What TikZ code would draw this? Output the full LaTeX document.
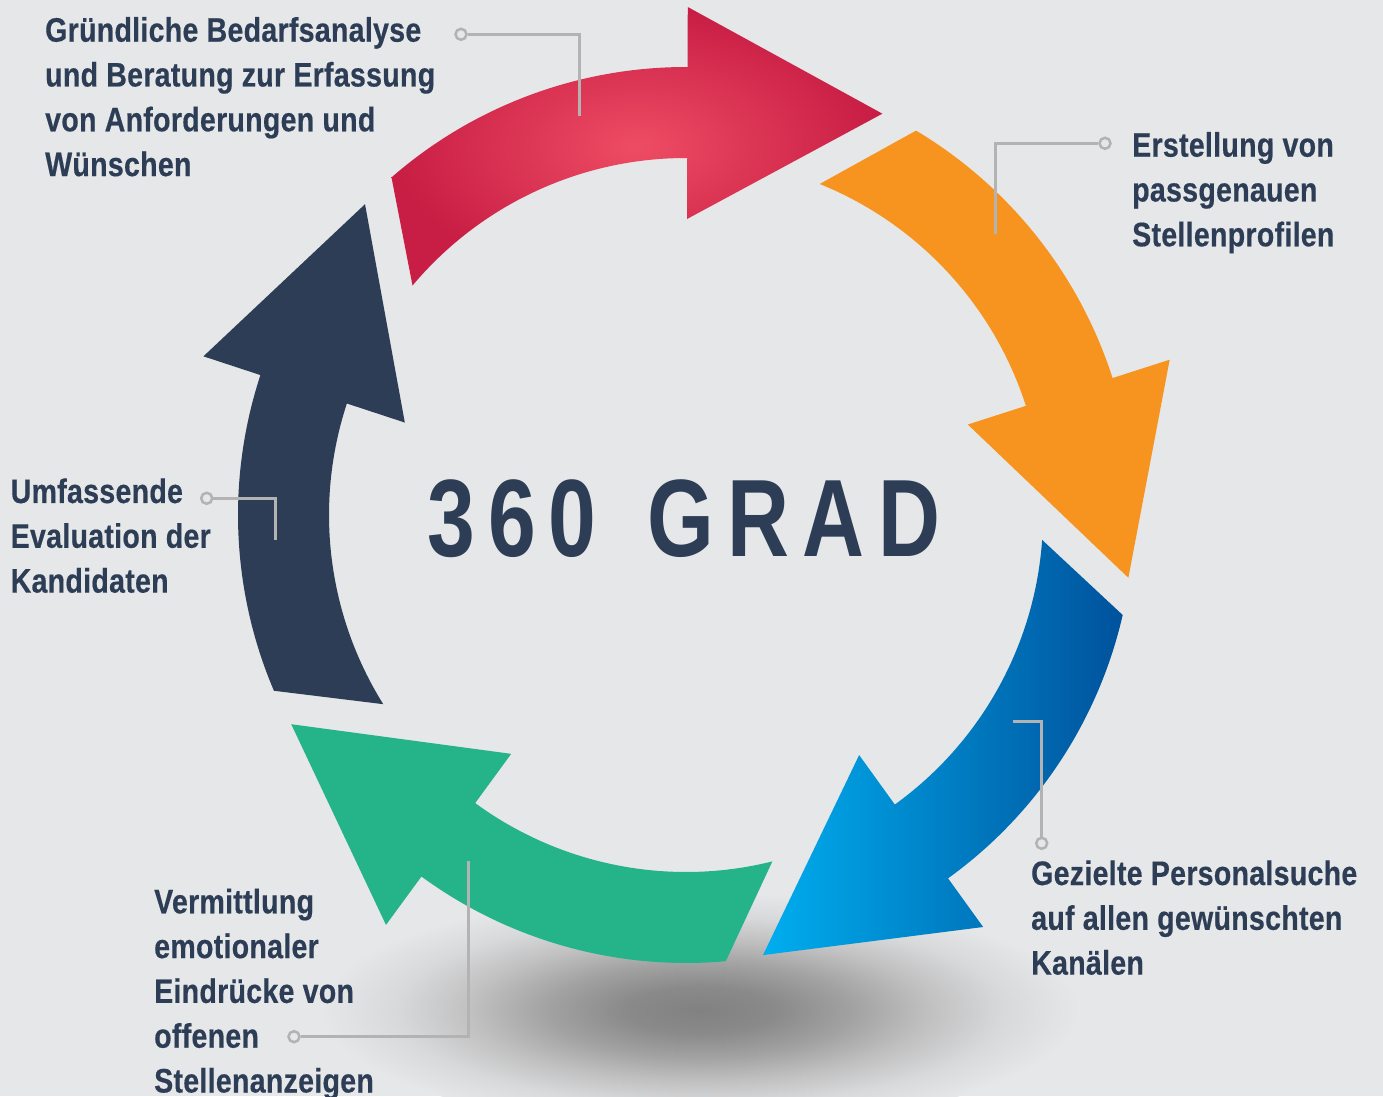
\documentclass[tikz,border=0pt]{standalone}
\usepackage{fontspec}
\setmainfont{Liberation Sans}
\newfontfamily\labfont{Liberation Sans}[FakeStretch=0.84,LetterSpace=0.8,FakeBold=0.4]
\newfontfamily\bigfont{Liberation Sans}[FakeStretch=0.78,LetterSpace=12]
\usetikzlibrary{calc}
\definecolor{bgc}{HTML}{E6E7E8}
\definecolor{navyc}{HTML}{2C3D55}
\definecolor{redlight}{HTML}{EE4C64}
\definecolor{reddark}{HTML}{C81D44}
\definecolor{orangec}{HTML}{F6941F}
\definecolor{bluelight}{HTML}{00AEEF}
\definecolor{bluedark}{HTML}{00529C}
\definecolor{greenc}{HTML}{25B389}
\definecolor{leadc}{HTML}{B3B3B3}
\definecolor{shd0}{HTML}{818181}
\definecolor{shd1}{HTML}{8A8A8A}
\definecolor{shd2}{HTML}{A2A2A3}
\definecolor{shd3}{HTML}{C0C0C1}
\definecolor{shd4}{HTML}{D8D9DA}
\pgfdeclareradialshading{shadowfade}{\pgfpoint{0bp}{0bp}}{color(0bp)=(shd0); color(5bp)=(shd1); color(10bp)=(shd2); color(15bp)=(shd3); color(20bp)=(shd4); color(25bp)=(bgc); color(50bp)=(bgc)}
\newcommand\ringarrow[2]{%
  \pgfmathsetmacro\To{#1-4.4}%
  \pgfmathsetmacro\Ti{#1+4.5}%
  \pgfmathsetmacro\Bb{#1-45.7}%
  \pgfmathsetmacro\Bt{#1-45.7-90}%
  \path[#2] ($(C)+(\To:448pt)$) arc[start angle=\To, end angle=\Bb, radius=448pt]
    -- ($(C)+(\Bb:508pt)$) -- ($(C)+(\Bb:402pt)+(\Bt:195pt)$) -- ($(C)+(\Bb:296pt)$)
    -- ($(C)+(\Bb:357pt)$) arc[start angle=\Bb, end angle=\Ti, radius=357pt] -- cycle;
}
\begin{document}
\begin{tikzpicture}[x=1pt,y=1pt,
  labtext/.style={anchor=base west, align=left, inner sep=0pt, text=navyc,
    font=\labfont\bfseries\fontsize{34}{44.8}\selectfont},
  lead/.style={draw=leadc, line width=3pt},
  dot/.style={circle, draw=leadc, line width=2.5pt, fill=bgc, minimum size=11pt, inner sep=0pt}]
\useasboundingbox (0,0) rectangle (1383,1096);
\clip (0,0) rectangle (1383,1096);
\fill[bgc] (0,0) rectangle (1383,1096);
\coordinate (C) at (686,581);
% shadow
\shade[shading=shadowfade] (700,86) ellipse [x radius=380, y radius=118];
% arrows
\ringarrow{135.5}{inner color=redlight, outer color=reddark}
\ringarrow{63.5}{fill=orangec}
\ringarrow{-8.5}{left color=bluelight, right color=bluedark}
\ringarrow{-80.5}{fill=greenc}
\ringarrow{-152.5}{fill=navyc}
% center text
\node[anchor=base west, inner sep=0pt, text=navyc, font=\bigfont\bfseries\fontsize{110}{110}\selectfont] (title) at (427,539) {360\hspace{14pt} GRAD};
% labels (anchor = baseline of last line)
\node[labtext] (t1) at (45,919.9) {Gründliche Bedarfsanalyse\\und Beratung zur Erfassung\\von Anforderungen und\\Wünschen};
\node[labtext] (t2) at (1132,849.7) {Erstellung von\\passgenauen\\Stellenprofilen};
\node[labtext] (t3) at (1031,121.4) {Gezielte Personalsuche\\auf allen gewünschten\\Kanälen};
\node[labtext] (t4) at (154,3.5) {Vermittlung\\emotionaler\\Eindrücke von\\offenen\\Stellenanzeigen};
\node[labtext] (t5) at (10.5,503.4) {Umfassende\\Evaluation der\\Kandidaten};
% leader lines
\node[dot] (d1) at (461,1061.7) {};
\coordinate (k1) at (579,1061.7); \coordinate (e1) at (579,980.3);
\draw[lead] (d1) -- (k1) -- (e1);
\node[dot] (d2) at (1105,952.7) {};
\coordinate (k2) at (995,952.7); \coordinate (e2) at (995,861.7);
\draw[lead] (d2) -- (k2) -- (e2);
\node[dot] (d3) at (1041.7,252.7) {};
\coordinate (k3) at (1041.7,374.3); \coordinate (e3) at (1013.3,374.3);
\draw[lead] (d3) -- (k3) -- (e3);
\node[dot] (d4) at (294,59.3) {};
\coordinate (k4) at (468.3,59.3); \coordinate (e4) at (468.3,235.3);
\draw[lead] (d4) -- (k4) -- (e4);
\node[dot] (d5) at (206.7,597.7) {};
\coordinate (k5) at (275,597.7); \coordinate (e5) at (275,556);
\draw[lead] (d5) -- (k5) -- (e5);
\end{tikzpicture}
\end{document}
